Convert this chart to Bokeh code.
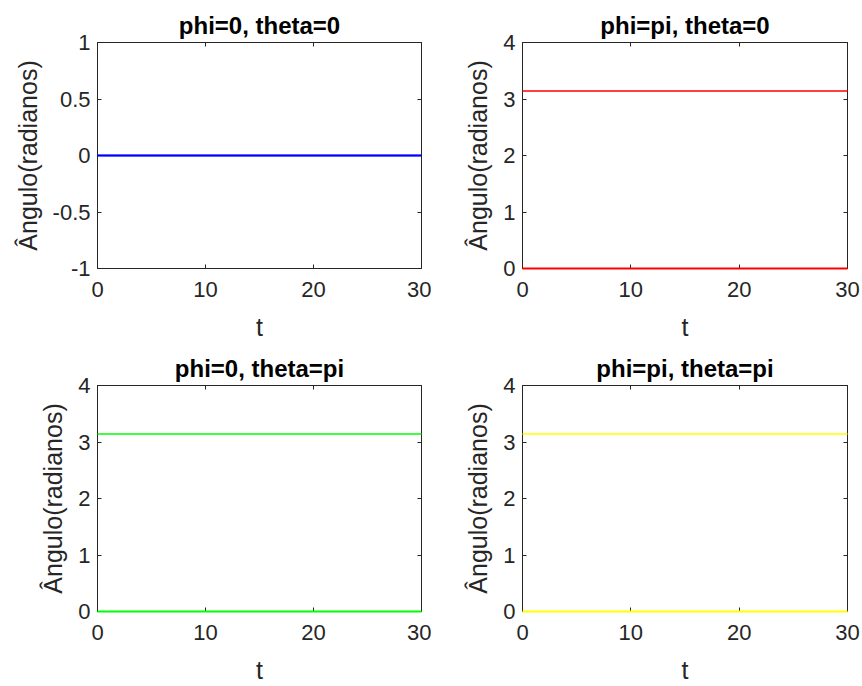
from bokeh.plotting import figure
from bokeh.layouts import column, row
from bokeh.models import LinearAxis, FixedTicker, Range1d, CustomLabelingPolicy
from bokeh.embed import file_html
from bokeh.resources import INLINE

# time span of the simulation
t = [0, 30]

# panel titles (initial conditions)
titles = ["phi=0, theta=0", "phi=pi, theta=0", "phi=0, theta=pi", "phi=pi, theta=pi"]

# two angle traces per panel (radians)
angle_a = [[0.0, 0.0], [3.1416, 3.1416], [3.1416, 3.1416], [3.1416, 3.1416]]
angle_b = [[0.0, 0.0], [0.0, 0.0], [0.0, 0.0], [0.0, 0.0]]

colors = ["#0000ff", "#ff0000", "#00ff00", "#ffff00"]

# y axis limits and ticks per panel
y_limits = [(-1, 1), (0, 4), (0, 4), (0, 4)]
y_ticks = [[-1, -0.5, 0, 0.5, 1], [0, 1, 2, 3, 4], [0, 1, 2, 3, 4], [0, 1, 2, 3, 4]]
y_tick_labels = [["-1", "-0.5", "0", "0.5", "1"],
                 ["0", "1", "2", "3", "4"],
                 ["0", "1", "2", "3", "4"],
                 ["0", "1", "2", "3", "4"]]
x_ticks = [0, 10, 20, 30]
x_tick_labels = ["0", "10", "20", "30"]

FONT = "Liberation Sans"
AX = "#262626"
TICK_SIZE = "22px"
LABEL_SIZE = "25px"
TITLE_SIZE = "24px"

# the mirrored axes (top/right) carry tick marks only
NO_LABELS = CustomLabelingPolicy(code="for (const i of indices) { indices.unset(i) } return indices")


def style_axis(ax, ticks, labels, show_labels=True):
    ax.ticker = FixedTicker(ticks=ticks)
    ax.minor_tick_line_color = None
    ax.major_tick_in = 4
    ax.major_tick_out = 0
    ax.axis_line_color = AX
    ax.major_tick_line_color = AX
    ax.major_label_text_font = FONT
    ax.major_label_text_color = AX
    ax.axis_label_text_font = FONT
    ax.axis_label_text_color = AX
    ax.axis_label_text_font_style = "normal"
    ax.axis_label_text_font_size = LABEL_SIZE
    if show_labels:
        ax.major_label_text_font_size = TICK_SIZE
        ax.major_label_overrides = {k: v for k, v in zip(ticks, labels)}
    else:
        ax.major_label_text_font_size = "0px"
        ax.major_label_policy = NO_LABELS
        ax.major_label_standoff = 0


def panel(i, left, right):
    lo, hi = y_limits[i]
    p = figure(width=431, height=343, output_backend="svg", toolbar_location=None,
               x_range=Range1d(0, 30), y_range=Range1d(lo, hi),
               min_border_left=left, min_border_right=right,
               min_border_top=42, min_border_bottom=74,
               title=titles[i])
    p.grid.visible = False
    p.outline_line_color = AX
    p.background_fill_color = "white"
    p.border_fill_color = "white"

    p.title.align = "center"
    p.title.text_font = FONT
    p.title.text_font_size = TITLE_SIZE
    p.title.text_font_style = "bold"
    p.title.text_color = "black"
    p.title.standoff = 7

    xa = p.xaxis[0]
    style_axis(xa, x_ticks, x_tick_labels)
    xa.axis_label = "t"
    xa.major_label_standoff = 13
    xa.axis_label_standoff = 13

    ya = p.yaxis[0]
    style_axis(ya, y_ticks[i], y_tick_labels[i])
    ya.axis_label = "Ângulo(radianos)"
    ya.major_label_standoff = 7
    ya.axis_label_standoff = 8

    top = LinearAxis()
    style_axis(top, x_ticks, x_tick_labels, show_labels=False)
    p.add_layout(top, "above")
    rt = LinearAxis()
    style_axis(rt, y_ticks[i], y_tick_labels[i], show_labels=False)
    p.add_layout(rt, "right")

    # traces drawn above the axes so a trace lying on the frame edge stays visible
    p.line(t, angle_a[i], line_color=colors[i], line_width=1.5, level="overlay")
    p.line(t, angle_b[i], line_color=colors[i], line_width=2, level="overlay")
    return p


p1 = panel(0, 97, 10)
p2 = panel(1, 91, 15)
p3 = panel(2, 97, 10)
p4 = panel(3, 91, 15)

layout = column(row(p1, p2), row(p3, p4))
open("out.html", "w").write(file_html(layout, INLINE))
